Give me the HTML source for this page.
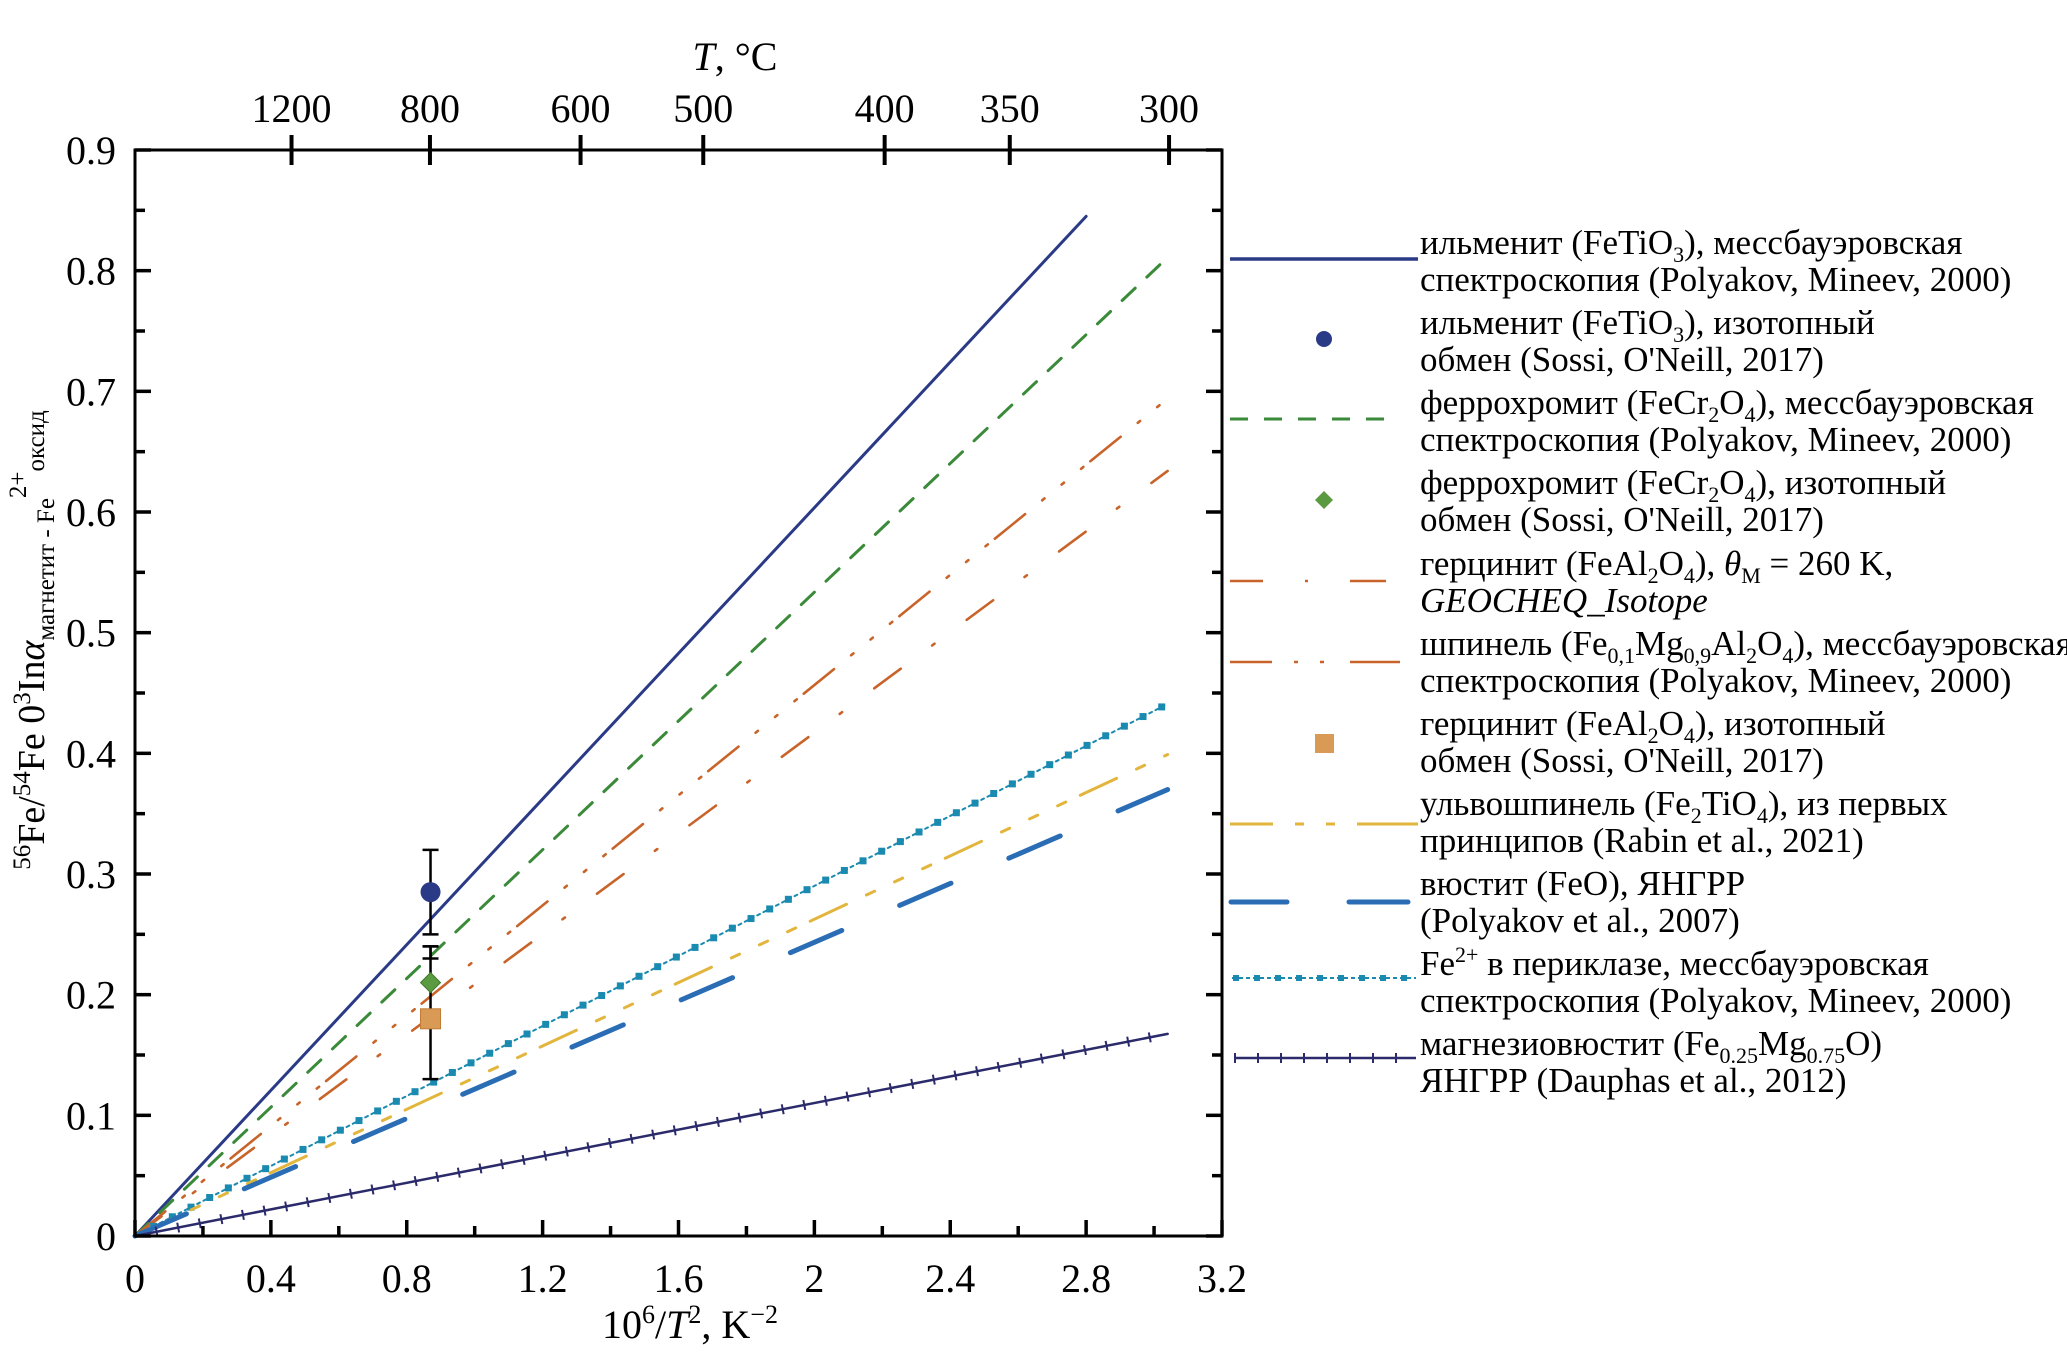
<!DOCTYPE html>
<html><head><meta charset="utf-8"><style>
html,body{margin:0;padding:0;background:#fff;}
svg{display:block;}
text,tspan{font-family:"Liberation Serif","DejaVu Serif",serif;}
</style></head><body>
<svg id="chart" width="2067" height="1360" viewBox="0 0 2067 1360" xmlns="http://www.w3.org/2000/svg">
<g id="plot"></g>
<g id="legend"></g>
</svg>
<script>
const seriesNames = ['ilmenite-moss','ferrochromite-moss','spinel-moss','hercynite-calc','periclase-moss','ulvospinel-calc','wustite-nrixs','magnesiowustite-nrixs'];
const seriesEndX = [2.8, 3.04, 3.04, 3.04, 3.04, 3.04, 3.04, 3.04];
const seriesEndY = [0.845, 0.811, 0.694, 0.634, 0.441, 0.399, 0.370, 0.1675];
const pointNames = ['ilmenite-exchange','ferrochromite-exchange','hercynite-exchange'];
const pointX = [0.87, 0.87, 0.87];
const pointY = [0.285, 0.21, 0.18];
const errLow = [0.25, 0.23, 0.13];
const errHigh = [0.32, 0.24, 0.24];
const xTicks = [0, 0.4, 0.8, 1.2, 1.6, 2, 2.4, 2.8, 3.2];
const xTickLabels = ['0','0.4','0.8','1.2','1.6','2','2.4','2.8','3.2'];
const yTicks = [0,0.1,0.2,0.3,0.4,0.5,0.6,0.7,0.8,0.9];
const yTickLabels = ['0','0.1','0.2','0.3','0.4','0.5','0.6','0.7','0.8','0.9'];
const topTempC = [1200, 800, 600, 500, 400, 350, 300];

const L=135,R=1222,T=150,B=1236;
const X=v=>L+v/3.2*(R-L);
const Y=v=>B-v/0.9*(B-T);
const NS='http://www.w3.org/2000/svg';
const plot=document.getElementById('plot');
function mk(tag,attrs,parent){const e=document.createElementNS(NS,tag);for(const k in attrs)e.setAttribute(k,attrs[k]);(parent||plot).appendChild(e);return e;}

const styles=[
 {c:'#2b3a86',w:3,d:''},
 {c:'#3a8a3a',w:3,d:'18 16'},
 {c:'#c8642a',w:2.6,d:'39 22 3 22 3 22 3 9'},
 {c:'#c8642a',w:2.6,d:'33 39 3 40'},
 {c:'#1a8ab0',w:2,d:'3 4'},
 {c:'#e2b53c',w:3,d:'40 22 9 22 9 22 9 16'},
 {c:'#2a6db5',w:5,d:'56 63'},
 {c:'#2b2a6b',w:2.5,d:''}
];

for(let i=0;i<seriesNames.length;i++){
  const s=styles[i];
  const ln=mk('line',{x1:X(0),y1:Y(0),x2:X(seriesEndX[i]),y2:Y(seriesEndY[i]),stroke:s.c,'stroke-width':s.w,'stroke-dasharray':s.d,'stroke-linecap':'round',fill:'none'});
  
  
  if(i===4){
    const x1=X(0),y1=Y(0),x2=X(seriesEndX[i]),y2=Y(seriesEndY[i]);
    const len=Math.hypot(x2-x1,y2-y1);const n=Math.floor(len/21);
    for(let k=1;k<=n;k++){const t=k*21/len;mk('rect',{x:x1+(x2-x1)*t-3.5,y:y1+(y2-y1)*t-3.5,width:7,height:7,fill:s.c});}
  }
  if(i===7){
    const x1=X(0),y1=Y(0),x2=X(seriesEndX[i]),y2=Y(seriesEndY[i]);
    const len=Math.hypot(x2-x1,y2-y1);const ux=(x2-x1)/len,uy=(y2-y1)/len;const n=Math.floor(len/22);
    for(let k=1;k<=n;k++){const px=x1+ux*k*22,py=y1+uy*k*22;mk('line',{x1:px+uy*5,y1:py-ux*5,x2:px-uy*5,y2:py+ux*5,stroke:s.c,'stroke-width':2});}
  }
}

const ptStyle=[{c:'#2b3a86',shape:'circle'},{c:'#5a9a40',shape:'diamond'},{c:'#d99a55',shape:'square'}];
for(let i=0;i<pointNames.length;i++){
  const px=X(pointX[i]);
  const eb=mk('line',{x1:px,y1:Y(errLow[i]),x2:px,y2:Y(errHigh[i]),stroke:'#000','stroke-width':2.5});
  
  
  mk('line',{x1:px-8,y1:Y(errLow[i]),x2:px+8,y2:Y(errLow[i]),stroke:'#000','stroke-width':2.5});
  mk('line',{x1:px-8,y1:Y(errHigh[i]),x2:px+8,y2:Y(errHigh[i]),stroke:'#000','stroke-width':2.5});
}
for(let i=0;i<pointNames.length;i++){
  const px=X(pointX[i]),py=Y(pointY[i]),st=ptStyle[i];let m;
  if(st.shape==='circle')m=mk('circle',{cx:px,cy:py,r:10,fill:st.c});
  else if(st.shape==='diamond')m=mk('polygon',{points:`${px},${py-10} ${px+10},${py} ${px},${py+10} ${px-10},${py}`,fill:st.c,stroke:'#3f7a2a','stroke-width':1});
  else m=mk('rect',{x:px-10,y:py-10,width:20,height:20,fill:st.c,stroke:'#c07a35','stroke-width':1});
  
  
}

const fr=mk('rect',{x:L,y:T,width:R-L,height:B-T,fill:'none',stroke:'#000','stroke-width':3});


for(let v=0;v<=3.2001;v+=0.2){
  const major=Math.abs(v/0.4-Math.round(v/0.4))<1e-6;
  mk('line',{x1:X(v),y1:B,x2:X(v),y2:B-(major?16:10),stroke:'#000','stroke-width':3.5});
}
for(let i=0;i<xTicks.length;i++){
  const t=mk('text',{x:X(xTicks[i]),y:1292,'font-size':40,'text-anchor':'middle',fill:'#000'});
  t.textContent=xTickLabels[i];
  
  
}
for(let k=0;k<=18;k++){
  const v=k*0.05,major=k%2===0;
  mk('line',{x1:L,y1:Y(v),x2:L+(major?16:10),y2:Y(v),stroke:'#000','stroke-width':3.5});
  mk('line',{x1:R,y1:Y(v),x2:R-(major?16:10),y2:Y(v),stroke:'#000','stroke-width':3.5});
}
for(let i=0;i<yTicks.length;i++){
  const t=mk('text',{x:116,y:Y(yTicks[i])+14,'font-size':40,'text-anchor':'end',fill:'#000'});
  t.textContent=yTickLabels[i];
  
  
}
for(let i=0;i<topTempC.length;i++){
  const xv=1e6/Math.pow(topTempC[i]+273.15,2);
  mk('line',{x1:X(xv),y1:T-15,x2:X(xv),y2:T+15,stroke:'#000','stroke-width':4});
  const t=mk('text',{x:X(xv),y:122,'font-size':40,'text-anchor':'middle',fill:'#000'});
  t.textContent=String(topTempC[i]);
  
  
}
</script>
<svg style="position:absolute;left:0;top:0" width="2067" height="1360" xmlns="http://www.w3.org/2000/svg">
<text x="735" y="70" font-size="40" text-anchor="middle"><tspan font-style="italic">T</tspan>, °C</text>
<text x="690" y="1338" font-size="40" text-anchor="middle">10<tspan font-size="26" dy="-15">6</tspan><tspan dy="15">/</tspan><tspan font-style="italic">T</tspan><tspan font-size="26" dy="-15">2</tspan><tspan dy="15">, K</tspan><tspan font-size="26" dy="-15">−2</tspan></text>
<text transform="translate(44,640) rotate(-90)" font-size="38" text-anchor="middle"><tspan font-size="25" dy="-14">56</tspan><tspan dy="14">Fe/</tspan><tspan font-size="25" dy="-14">54</tspan><tspan dy="14">Fe 0</tspan><tspan font-size="25" dy="-14">3</tspan><tspan dy="14">In</tspan><tspan font-style="italic">α</tspan><tspan font-size="25" dy="10">магнетит - Fe</tspan><tspan font-size="25" dy="-28">2+</tspan><tspan font-size="25" dy="18">оксид</tspan></text>
<g font-size="35" fill="#000">
<line x1="1230" y1="259" x2="1418" y2="259" stroke="#2b3a86" stroke-width="3.5"/>
<text x="1420" y="254">ильменит (FeTiO<tspan font-size="22" dy="8">3</tspan><tspan dy="-8">), мессбауэровская</tspan></text>
<text x="1420" y="291">спектроскопия (Polyakov, Mineev, 2000)</text>
<circle cx="1324" cy="339" r="8" fill="#2b3a86"/>
<text x="1420" y="334">ильменит (FeTiO<tspan font-size="22" dy="8">3</tspan><tspan dy="-8">), изотопный</tspan></text>
<text x="1420" y="371">обмен (Sossi, O'Neill, 2017)</text>
<line x1="1230" y1="419" x2="1400" y2="419" stroke="#3a8a3a" stroke-width="3" stroke-dasharray="18 16"/>
<text x="1420" y="414">феррохромит (FeCr<tspan font-size="22" dy="8">2</tspan><tspan dy="-8">O</tspan><tspan font-size="22" dy="8">4</tspan><tspan dy="-8">), мессбауэровская</tspan></text>
<text x="1420" y="451">спектроскопия (Polyakov, Mineev, 2000)</text>
<polygon points="1324,491 1333,500 1324,509 1315,500" fill="#5a9a40"/>
<text x="1420" y="494">феррохромит (FeCr<tspan font-size="22" dy="8">2</tspan><tspan dy="-8">O</tspan><tspan font-size="22" dy="8">4</tspan><tspan dy="-8">), изотопный</tspan></text>
<text x="1420" y="531">обмен (Sossi, O'Neill, 2017)</text>
<line x1="1230" y1="581" x2="1386" y2="581" stroke="#c8642a" stroke-width="2.6" stroke-dasharray="33 42 3 42 40"/>
<text x="1420" y="575">герцинит (FeAl<tspan font-size="22" dy="8">2</tspan><tspan dy="-8">O</tspan><tspan font-size="22" dy="8">4</tspan><tspan dy="-8">), </tspan><tspan font-style="italic">θ</tspan><tspan font-size="22" dy="8">M</tspan><tspan dy="-8"> = 260 K,</tspan></text>
<text x="1420" y="612" font-style="italic">GEOCHEQ_Isotope</text>
<line x1="1230" y1="662" x2="1400" y2="662" stroke="#c8642a" stroke-width="2.6" stroke-dasharray="42 22 4 22 4 26 50"/>
<text x="1420" y="655">шпинель (Fe<tspan font-size="22" dy="8">0,1</tspan><tspan dy="-8">Mg</tspan><tspan font-size="22" dy="8">0,9</tspan><tspan dy="-8">Al</tspan><tspan font-size="22" dy="8">2</tspan><tspan dy="-8">O</tspan><tspan font-size="22" dy="8">4</tspan><tspan dy="-8">), мессбауэровская</tspan></text>
<text x="1420" y="692">спектроскопия (Polyakov, Mineev, 2000)</text>
<rect x="1315" y="734" width="19" height="19" fill="#d99a55"/>
<text x="1420" y="735">герцинит (FeAl<tspan font-size="22" dy="8">2</tspan><tspan dy="-8">O</tspan><tspan font-size="22" dy="8">4</tspan><tspan dy="-8">), изотопный</tspan></text>
<text x="1420" y="772">обмен (Sossi, O'Neill, 2017)</text>
<line x1="1230" y1="824" x2="1418" y2="824" stroke="#e2b53c" stroke-width="3" stroke-dasharray="43 22 9 22 9 22 61"/>
<text x="1420" y="815">ульвошпинель (Fe<tspan font-size="22" dy="8">2</tspan><tspan dy="-8">TiO</tspan><tspan font-size="22" dy="8">4</tspan><tspan dy="-8">), из первых</tspan></text>
<text x="1420" y="852">принципов (Rabin et al., 2021)</text>
<line x1="1231" y1="902" x2="1408" y2="902" stroke="#2a6db5" stroke-width="5" stroke-linecap="round" stroke-dasharray="56 62 60"/>
<text x="1420" y="895">вюстит (FeO), ЯНГРР</text>
<text x="1420" y="932">(Polyakov et al., 2007)</text>
<line x1="1232" y1="978" x2="1416" y2="978" stroke="#1a8ab0" stroke-width="2" stroke-dasharray="4 3"/>
<g fill="#1a8ab0"><rect x="1233" y="975" width="6" height="6"/><rect x="1254" y="975" width="6" height="6"/><rect x="1275" y="975" width="6" height="6"/><rect x="1296" y="975" width="6" height="6"/><rect x="1317" y="975" width="6" height="6"/><rect x="1338" y="975" width="6" height="6"/><rect x="1359" y="975" width="6" height="6"/><rect x="1380" y="975" width="6" height="6"/><rect x="1401" y="975" width="6" height="6"/></g>
<text x="1420" y="975">Fe<tspan font-size="22" dy="-13">2+</tspan><tspan dy="13"> в периклазе, мессбауэровская</tspan></text>
<text x="1420" y="1012">спектроскопия (Polyakov, Mineev, 2000)</text>
<line x1="1234" y1="1058" x2="1416" y2="1058" stroke="#2b2a6b" stroke-width="2.5"/>
<g stroke="#2b2a6b" stroke-width="2"><line x1="1235" y1="1053" x2="1235" y2="1063"/><line x1="1258" y1="1053" x2="1258" y2="1063"/><line x1="1281" y1="1053" x2="1281" y2="1063"/><line x1="1304" y1="1053" x2="1304" y2="1063"/><line x1="1327" y1="1053" x2="1327" y2="1063"/><line x1="1350" y1="1053" x2="1350" y2="1063"/><line x1="1373" y1="1053" x2="1373" y2="1063"/><line x1="1396" y1="1053" x2="1396" y2="1063"/></g>
<text x="1420" y="1055">магнезиовюстит (Fe<tspan font-size="22" dy="8">0.25</tspan><tspan dy="-8">Mg</tspan><tspan font-size="22" dy="8">0.75</tspan><tspan dy="-8">O)</tspan></text>
<text x="1420" y="1092">ЯНГРР (Dauphas et al., 2012)</text>
</g>
</svg>
</body></html>
